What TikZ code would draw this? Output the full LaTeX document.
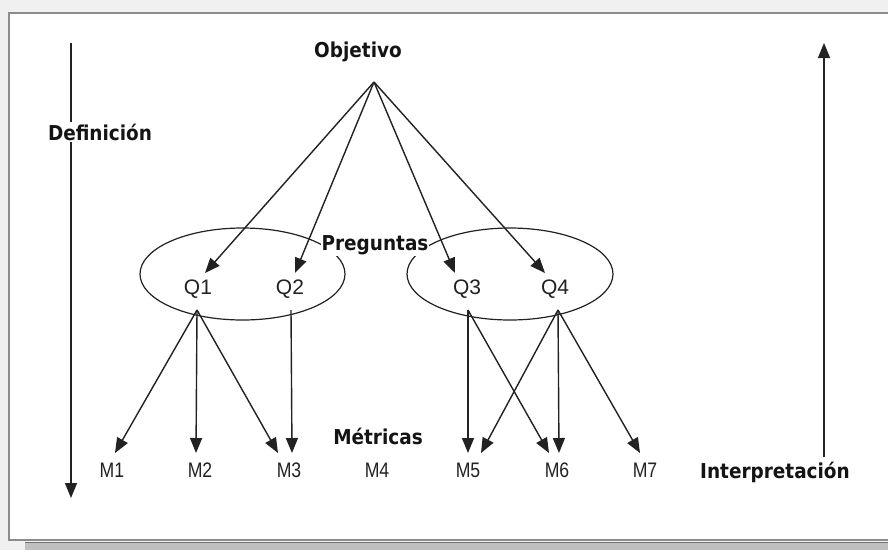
\documentclass[tikz,border=0pt]{standalone}
\usepackage{fontspec}
\usetikzlibrary{arrows.meta}
\newfontfamily\headfont{DejaVu Sans Condensed Bold}
\newfontfamily\qfont{Liberation Sans}
\newfontfamily\mfont{Liberation Sans}[FakeStretch=0.84]
\definecolor{ink}{HTML}{222222}
\definecolor{frameline}{HTML}{8C8C8C}
\tikzset{
  head/.style={font=\headfont\fontsize{20.5}{22}\selectfont, text=black!92, inner sep=2pt},
  qlabel/.style={font=\qfont\fontsize{21}{23}\selectfont, text=ink, inner sep=1pt},
  mlabel/.style={font=\mfont\fontsize{21}{23}\selectfont, text=ink, inner sep=1pt},
  link/.style={draw=ink, line width=1.4pt, -{Triangle[length=15pt,width=12pt]}},
  group/.style={draw=ink, line width=1.2pt},
}
\begin{document}
\begin{tikzpicture}[x=1pt,y=-1pt]
\useasboundingbox (0,0) rectangle (888,550);
% page frame
\fill[black!6] (0,0) rectangle (888,550);
\fill[white] (9,13) rectangle (888,540);
\draw[frameline, line width=1.3pt] (888,13) -- (9,13) -- (9,540) -- (888,540);
\fill[black!25] (25,542) rectangle (888,550);
\draw[black!55, line width=1.5pt] (25,542.5) -- (888,542.5);

% side arrows
\coordinate (defTop) at (71,43);
\coordinate (defEnd) at (71,498);
\draw[link] (defTop) -- (defEnd);
\node[head, fill=white] (def) at (100,132) {Definición};

\node[head] (interp) at (775,472) {Interpretación};
\coordinate (intTop) at (824,43);
\coordinate (intBot) at (824,457);
\draw[link] (intBot) -- (intTop);

% goal
\node[head] (obj) at (358,52) {Objetivo};
\coordinate (apex) at (374,82);

% question groups
\draw[group] (242.5,274) ellipse [x radius=102.5, y radius=46];
\draw[group] (510,274) ellipse [x radius=103, y radius=46];
\node[head, fill=white, inner sep=1pt] (preg) at (375,245) {Preguntas};

\node[qlabel] (q1) at (198,289) {Q1};
\node[qlabel] (q2) at (290,289) {Q2};
\node[qlabel] (q3) at (467,289) {Q3};
\node[qlabel] (q4) at (555,289) {Q4};

\coordinate (q1in) at (205,273);
\coordinate (q2in) at (295,273);
\coordinate (q3in) at (455,273);
\coordinate (q4in) at (545,273);
\draw[link] (apex) -- (q1in);
\draw[link] (apex) -- (q2in);
\draw[link] (apex) -- (q3in);
\draw[link] (apex) -- (q4in);

\coordinate (q1out) at (197,310);
\coordinate (q2out) at (291,310);
\coordinate (q3out) at (468,310);
\coordinate (q4out) at (558,310);

% metrics
\node[head] (met) at (378,436) {Métricas};
\node[mlabel] (m1) at (112,470) {M1};
\node[mlabel] (m2) at (200,470) {M2};
\node[mlabel] (m3) at (289,470) {M3};
\node[mlabel] (m4) at (377,470) {M4};
\node[mlabel] (m5) at (468,470) {M5};
\node[mlabel] (m6) at (557,470) {M6};
\node[mlabel] (m7) at (645,470) {M7};

\coordinate (m1a) at (115,453);
\coordinate (m2a) at (196,453);
\coordinate (m3a) at (278,453);
\coordinate (m3b) at (292,453);
\coordinate (m5a) at (468,453);
\coordinate (m5b) at (481,453);
\coordinate (m6a) at (549,453);
\coordinate (m6b) at (559,453);
\coordinate (m7a) at (640,453);

\draw[link] (q1out) -- (m1a);
\draw[link] (q1out) -- (m2a);
\draw[link] (q1out) -- (m3a);
\draw[link] (q2out) -- (m3b);
\draw[link] (q3out) -- (m5a);
\draw[link] (q3out) -- (m6a);
\draw[link] (q4out) -- (m5b);
\draw[link] (q4out) -- (m6b);
\draw[link] (q4out) -- (m7a);
\end{tikzpicture}
\end{document}
